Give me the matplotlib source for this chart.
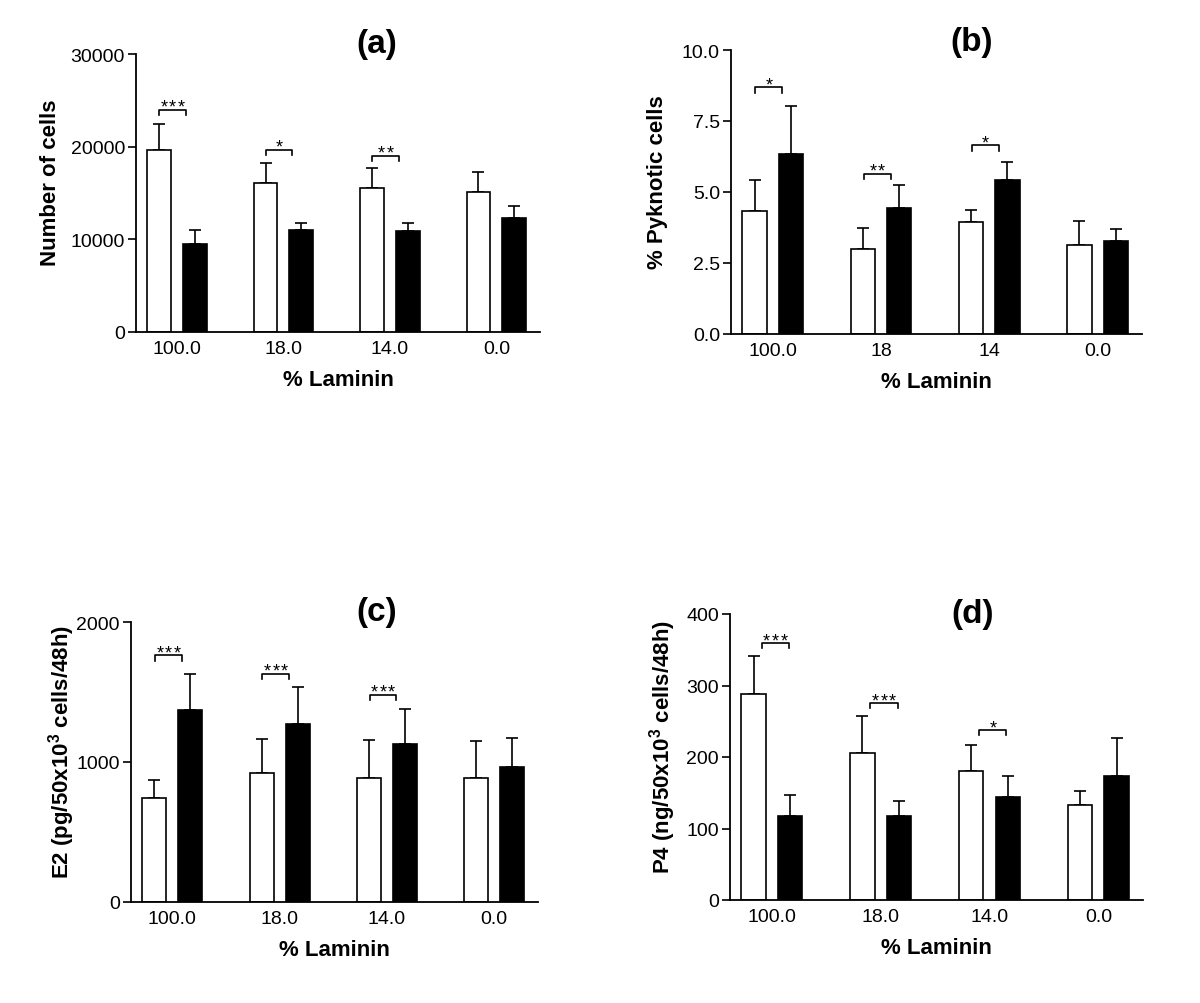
import matplotlib.pyplot as plt
import numpy as np

plt.rcParams['font.family'] = ['Liberation Sans', 'DejaVu Sans']
plt.rcParams['mathtext.fontset'] = 'custom'
plt.rcParams['mathtext.rm'] = 'Liberation Sans'
plt.rcParams['mathtext.bf'] = 'Liberation Sans:bold'

# (a) number of cells
cells_open = [19690, 16130, 15590, 15130]
cells_open_err = [2770, 2160, 2160, 2190]
cells_solid = [9450, 11030, 10850, 12320]
cells_solid_err = [1510, 750, 900, 1260]
cells_sig = [(0, 24000, 3), (1, 19650, 1), (2, 19040, 2)]

# (b) % pyknotic cells
pyk_open = [4.34, 2.99, 3.94, 3.14]
pyk_open_err = [1.10, 0.74, 0.44, 0.83]
pyk_solid = [6.33, 4.45, 5.42, 3.27]
pyk_solid_err = [1.71, 0.79, 0.64, 0.42]
pyk_sig = [(0, 8.68, 1), (1, 5.64, 2), (2, 6.64, 1)]

# (c) E2
e2_open = [740, 924, 885, 883]
e2_open_err = [133, 243, 270, 267]
e2_solid = [1375, 1270, 1131, 962]
e2_solid_err = [257, 267, 251, 212]
e2_sig = [(0, 1761, 3), (1, 1630, 3), (2, 1480, 3)]

# (d) P4
p4_open = [288.6, 205, 180.4, 132.9]
p4_open_err = [53, 52, 37, 20]
p4_solid = [118, 118, 144, 173]
p4_solid_err = [29, 20.5, 29, 53]
p4_sig = [(0, 359.4, 3), (1, 275.5, 3), (2, 237.3, 1)]

labels_a = ['100.0', '18.0', '14.0', '0.0']
labels_b = ['100.0', '18', '14', '0.0']

W, H = 1200, 1004
fig = plt.figure(figsize=(W / 100, H / 100), dpi=100)


def px_axes(l, r, t, b):
    return fig.add_axes([l / W, 1 - b / H, (r - l) / W, (b - t) / H])


def panel(rect, title, title_xy, op, ope, so, soe, sig, ylim, yticks, yticklabels,
          xlabels, ylabel, ylab_x, bracket_shift):
    ax = px_axes(*rect)
    x = np.arange(4)
    bw = 0.224
    off = 0.168
    ax.bar(x - off, op, bw, color='white', edgecolor='black', linewidth=1.2, zorder=2)
    ax.bar(x + off, so, bw, color='black', edgecolor='black', linewidth=1.2, zorder=2)
    ax.errorbar(x - off, op, yerr=[np.zeros(4), ope], fmt='none', ecolor='black',
                elinewidth=1.2, capsize=4.3, capthick=1.2, zorder=1)
    ax.errorbar(x + off, so, yerr=[np.zeros(4), soe], fmt='none', ecolor='black',
                elinewidth=1.2, capsize=4.3, capthick=1.2, zorder=1)
    drop = 0.018 * ylim
    for g, yv, n in sig:
        c = g + bracket_shift
        ax.plot([c - 0.125, c - 0.125, c + 0.125, c + 0.125],
                [yv - drop, yv, yv, yv - drop], color='black', lw=1.2)
        for i in range(n):
            ax.text(c + (i - (n - 1) / 2) * 0.08, yv - 0.007 * ylim, '*',
                    ha='center', va='baseline', fontsize=13)
    ax.set_xlim(-0.385, 3.41)
    ax.set_ylim(0, ylim)
    ax.set_xticks(x)
    ax.set_xticklabels(xlabels, fontsize=14)
    ax.set_yticks(yticks)
    ax.set_yticklabels(yticklabels, fontsize=14)
    ax.tick_params(axis='x', length=0, pad=6)
    ax.tick_params(axis='y', length=6, width=1.2, pad=2)
    for sp in ['top', 'right']:
        ax.spines[sp].set_visible(False)
    for sp in ['left', 'bottom']:
        ax.spines[sp].set_linewidth(1.3)
    h = rect[3] - rect[2]
    w = rect[1] - rect[0]
    ax.set_xlabel('% Laminin', fontsize=16, fontweight='bold', va='center')
    ax.xaxis.set_label_coords(0.5, -48 / h)
    ax.set_ylabel(ylabel, fontsize=16, fontweight='bold', va='center')
    ax.yaxis.set_label_coords(-ylab_x / w, 0.54)
    fig.text(title_xy[0] / W, 1 - title_xy[1] / H, title, fontsize=24,
             fontweight='bold', ha='center', va='center')
    return ax


panel((136, 540, 55, 333), '(a)', (377, 45), cells_open, cells_open_err,
      cells_solid, cells_solid_err, cells_sig, 30000,
      [0, 10000, 20000, 30000], ['0', '10000', '20000', '30000'],
      labels_a, 'Number of cells', 85, -0.04)

panel((731, 1142, 51, 335), '(b)', (972, 43), pyk_open, pyk_open_err,
      pyk_solid, pyk_solid_err, pyk_sig, 10.0,
      [0, 2.5, 5.0, 7.5, 10.0], ['0.0', '2.5', '5.0', '7.5', '10.0'],
      labels_b, '% Pyknotic cells', 74, -0.035)

panel((131, 538, 623, 903), '(c)', (377, 613), e2_open, e2_open_err,
      e2_solid, e2_solid_err, e2_sig, 2000,
      [0, 1000, 2000], ['0', '1000', '2000'],
      labels_a, r'E2 (pg/50x10$^{\mathbf{3}}$ cells/48h)', 69, -0.035)

panel((730, 1143, 615, 901), '(d)', (973, 615), p4_open, p4_open_err,
      p4_solid, p4_solid_err, p4_sig, 400,
      [0, 100, 200, 300, 400], ['0', '100', '200', '300', '400'],
      labels_a, r'P4 (ng/50x10$^{\mathbf{3}}$ cells/48h)', 67, 0.03)

fig.savefig('out.png', dpi=100, facecolor='white')
